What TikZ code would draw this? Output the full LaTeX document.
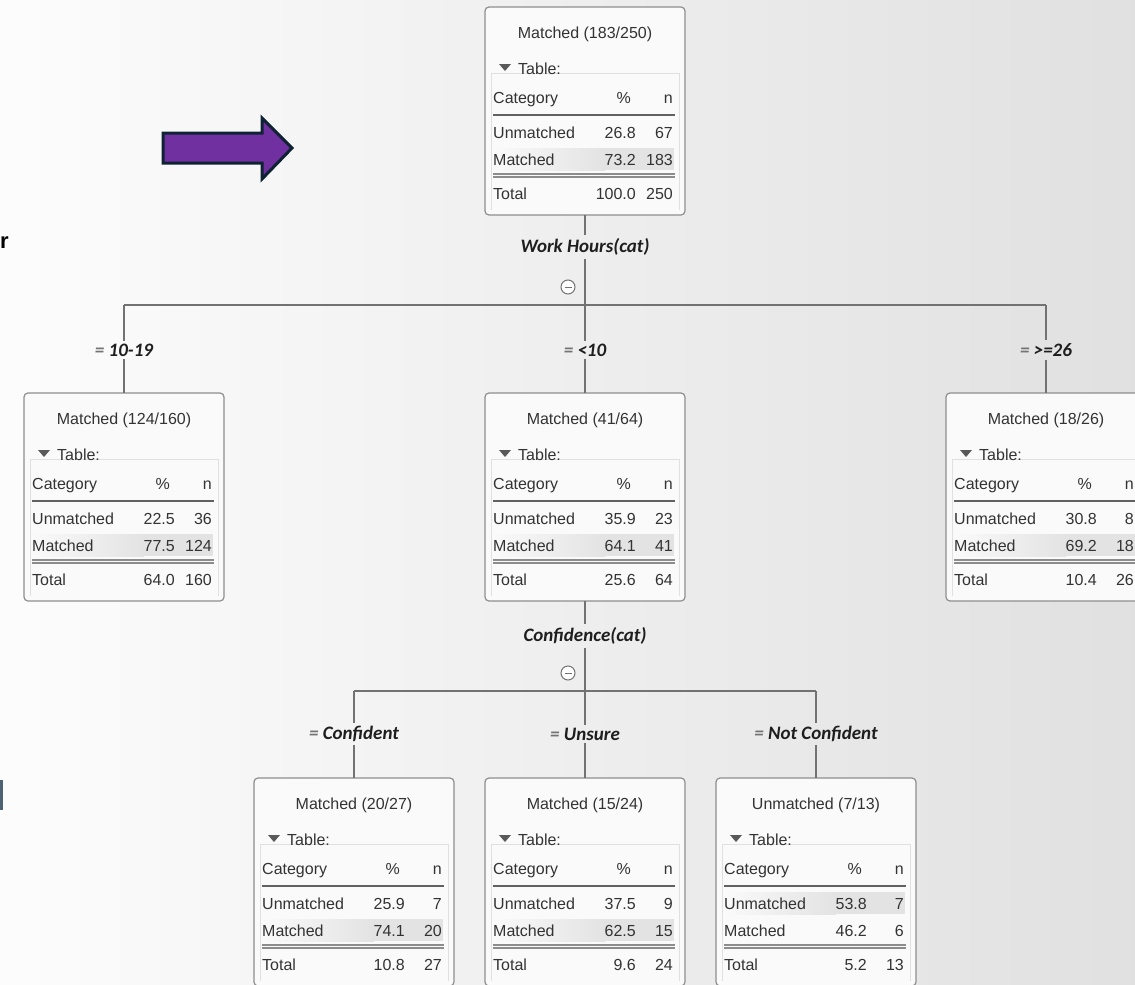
\documentclass[tikz,border=0pt]{standalone}
\usepackage{fontspec}
\setmainfont{Liberation Sans}
\newfontfamily\labfont{Carlito}
\definecolor{txt}{HTML}{333333}
\definecolor{bord}{HTML}{8E8E8E}
\definecolor{conn}{HTML}{727272}
\definecolor{arrowfill}{HTML}{7030A0}
\definecolor{arrowline}{HTML}{0E2233}
\definecolor{barcol}{HTML}{4D6373}
\definecolor{labtxt}{HTML}{1E1E1E}
\tikzset{
  treebox/.style={draw=bord, line width=1.2pt, rounded corners=4pt, fill=white!98!black,
    minimum width=200pt, minimum height=208pt, inner sep=0pt, outer sep=0pt},
  cell/.style={font=\fontsize{16}{19}\selectfont, text=txt, inner sep=0pt},
  lab/.style={font=\labfont\bfseries\itshape\fontsize{19}{22}\selectfont, text=labtxt, inner sep=3pt},
  conn/.style={draw=conn, line width=1.3pt},
  rule/.style={draw=black!62, line width=1.2pt},
  rulex/.style={draw=black!45, line width=1.1pt},
  faint/.style={draw=black!12, line width=0.8pt},
  collapse/.style={circle, draw=black!55, line width=1pt, minimum size=14pt, inner sep=0pt, fill=white},
}
\newcommand{\dtbox}[5]{%
  \node[treebox, anchor=north west] (#1) at (#2,#3) {};
  \draw[faint] ({#2+6},{#3+203}) -- ({#2+6},{#3+66}) -- ({#2+194},{#3+66}) -- ({#2+194},{#3+203});
  \shade[left color=white!98!black, right color=black!11]
    ({#2+8},{#3+#5}) rectangle ({#2+120},{#3+#5+22});
  \fill[black!11] ({#2+120},{#3+#5}) rectangle ({#2+189},{#3+#5+22});
  \node[cell, anchor=base] (#1-ti) at ({#2+100},{#3+31}) {#4};
  \fill[black!65] ({#2+14},{#3+57}) -- ({#2+26},{#3+57}) -- ({#2+20},{#3+64}) -- cycle;
  \node[cell, anchor=base west] (#1-tb) at ({#2+33},{#3+67}) {Table:};
  \node[cell, anchor=base west] (#1-h1) at ({#2+8},{#3+96}) {Category};
  \node[cell, anchor=base east] (#1-h2) at ({#2+146},{#3+96}) {\%};
  \node[cell, anchor=base east] (#1-h3) at ({#2+188},{#3+96}) {n};
  \draw[rule] ({#2+8},{#3+108}) -- ({#2+190},{#3+108});
  \draw[rulex] ({#2+8},{#3+167}) -- ({#2+190},{#3+167});
  \draw[rulex] ({#2+8},{#3+170}) -- ({#2+190},{#3+170});
  \node[cell, anchor=base west] (#1-r1) at ({#2+8},{#3+131}) {Unmatched};
  \node[cell, anchor=base west] (#1-r2) at ({#2+8},{#3+158}) {Matched};
  \node[cell, anchor=base west] (#1-r3) at ({#2+8},{#3+192}) {Total};
}
\newcommand{\dtnums}[9]{%
  \node[cell, anchor=base east] (#1-a1) at ({#2+151},{#3+131}) {#4};
  \node[cell, anchor=base east] (#1-b1) at ({#2+188},{#3+131}) {#5};
  \node[cell, anchor=base east] (#1-a2) at ({#2+151},{#3+158}) {#6};
  \node[cell, anchor=base east] (#1-b2) at ({#2+188},{#3+158}) {#7};
  \node[cell, anchor=base east] (#1-a3) at ({#2+151},{#3+192}) {#8};
  \node[cell, anchor=base east] (#1-b3) at ({#2+188},{#3+192}) {#9};
}
\newcommand{\minus}[1]{\draw[black!55, line width=1pt] ([xshift=-3.5pt]#1.center) -- ([xshift=3.5pt]#1.center);}
\begin{document}
\begin{tikzpicture}[x=1pt, y=-1pt]
\useasboundingbox (0,0) rectangle (1135,985);
\clip (0,0) rectangle (1135,985);
\shade[left color=white!99!black, middle color=white!96!black, right color=black!12] (0,0) rectangle (1135,985);

% left-edge remnants
\node[font=\bfseries\fontsize{22}{26}\selectfont, anchor=base west, inner sep=0pt] (rtxt) at (0,248) {r};
\fill[barcol] (0,780) rectangle (3,810);

% purple arrow
\filldraw[fill=arrowfill, draw=arrowline, line width=3pt, line join=miter]
  (163,133) -- (262,133) -- (262,118) -- (292,148) -- (262,179) -- (262,163) -- (163,163) -- cycle;

% boxes
\dtbox{top}{485}{7}{Matched (183/250)}{141}
\dtnums{top}{485}{7}{26.8}{67}{73.2}{183}{100.0}{250}
\dtbox{lft}{24}{393}{Matched (124/160)}{141}
\dtnums{lft}{24}{393}{22.5}{36}{77.5}{124}{64.0}{160}
\dtbox{mid}{485}{393}{Matched (41/64)}{141}
\dtnums{mid}{485}{393}{35.9}{23}{64.1}{41}{25.6}{64}
\dtbox{rgt}{946}{393}{Matched (18/26)}{141}
\dtnums{rgt}{946}{393}{30.8}{8}{69.2}{18}{10.4}{26}
\dtbox{bA}{254}{778}{Matched (20/27)}{141}
\dtnums{bA}{254}{778}{25.9}{7}{74.1}{20}{10.8}{27}
\dtbox{bB}{485}{778}{Matched (15/24)}{141}
\dtnums{bB}{485}{778}{37.5}{9}{62.5}{15}{9.6}{24}
\dtbox{bC}{716}{778}{Unmatched (7/13)}{114}
\dtnums{bC}{716}{778}{53.8}{7}{46.2}{6}{5.2}{13}

% first split
\coordinate (s1) at (585,305);
\node[lab] (l0) at (585,247) {Work Hours(cat)};
\node[collapse] (c1) at (568,287) {};
\minus{c1}
\draw[conn] (top.south) -- (l0.north);
\draw[conn] (l0.south) -- (s1);
\draw[conn] (lft.north |- s1) -- (rgt.north |- s1);
\node[lab] (la) at (lft.north |- 0,350) {{\color{black!55}=} 10-19};
\node[lab] (lb) at (mid.north |- 0,350) {{\color{black!55}=} <10};
\node[lab] (lc) at (rgt.north |- 0,350) {{\color{black!55}=} >=26};
\draw[conn] (lft.north |- s1) -- (la.north);
\draw[conn] (la.south) -- (lft.north);
\draw[conn] (s1) -- (lb.north);
\draw[conn] (lb.south) -- (mid.north);
\draw[conn] (rgt.north |- s1) -- (lc.north);
\draw[conn] (lc.south) -- (rgt.north);

% second split
\coordinate (s2) at (585,691);
\node[lab] (l1) at (585,636) {Confidence(cat)};
\node[collapse] (c2) at (568,673) {};
\minus{c2}
\draw[conn] (mid.south) -- (l1.north);
\draw[conn] (l1.south) -- (s2);
\draw[conn] (bA.north |- s2) -- (bC.north |- s2);
\node[lab] (ld) at (bA.north |- 0,734) {{\color{black!55}=} Confident};
\node[lab] (le) at (bB.north |- 0,734) {{\color{black!55}=} Unsure};
\node[lab] (lf) at (bC.north |- 0,734) {{\color{black!55}=} Not Confident};
\draw[conn] (bA.north |- s2) -- (ld.north);
\draw[conn] (ld.south) -- (bA.north);
\draw[conn] (s2) -- (le.north);
\draw[conn] (le.south) -- (bB.north);
\draw[conn] (bC.north |- s2) -- (lf.north);
\draw[conn] (lf.south) -- (bC.north);
\end{tikzpicture}
\end{document}
